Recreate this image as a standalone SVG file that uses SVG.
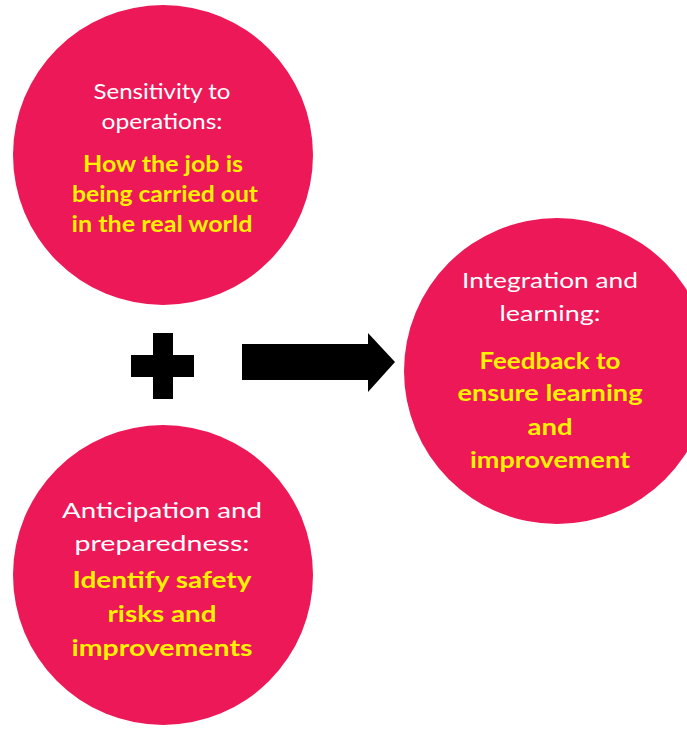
<svg xmlns="http://www.w3.org/2000/svg" width="687" height="731" viewBox="0 0 687 731">
  <style>
    .disc { fill: #EC1857; }
    .head { font-family: Lato, "Liberation Sans", Arial, sans-serif; font-size: 22px; fill: #FFFFFF; text-anchor: middle; }
    .body { font-family: Lato, "Liberation Sans", Arial, sans-serif; font-size: 22px; font-weight: bold; fill: #FFF200; text-anchor: middle; }
    .sym { fill: #000000; }
  </style>
  <rect width="687" height="731" fill="#FFFFFF"/>

  <g id="sensitivity">
    <circle class="disc" cx="163" cy="155" r="150"/>
    <text class="head" x="162" y="99" textLength="137" lengthAdjust="spacingAndGlyphs">Sensitivity to</text>
    <text class="head" x="162" y="129" textLength="121" lengthAdjust="spacingAndGlyphs">operations:</text>
    <text class="body" x="163" y="172" textLength="160" lengthAdjust="spacingAndGlyphs">How the job is</text>
    <text class="body" x="165" y="202" textLength="186" lengthAdjust="spacingAndGlyphs">being carried out</text>
    <text class="body" x="162" y="232" textLength="181" lengthAdjust="spacingAndGlyphs">in the real world</text>
  </g>

  <g id="anticipation">
    <circle class="disc" cx="163" cy="575" r="150"/>
    <text class="head" x="162" y="518" textLength="200" lengthAdjust="spacingAndGlyphs">Anticipation and</text>
    <text class="head" x="162" y="551" textLength="175" lengthAdjust="spacingAndGlyphs">preparedness:</text>
    <text class="body" x="162" y="588" textLength="179" lengthAdjust="spacingAndGlyphs">Identify safety</text>
    <text class="body" x="162" y="622" textLength="109" lengthAdjust="spacingAndGlyphs">risks and</text>
    <text class="body" x="162" y="656" textLength="181" lengthAdjust="spacingAndGlyphs">improvements</text>
  </g>

  <g id="integration">
    <circle class="disc" cx="557" cy="371" r="153"/>
    <text class="head" x="550" y="288" textLength="176" lengthAdjust="spacingAndGlyphs">Integration and</text>
    <text class="head" x="550" y="321" textLength="101" lengthAdjust="spacingAndGlyphs">learning:</text>
    <text class="body" x="550" y="369" textLength="141" lengthAdjust="spacingAndGlyphs">Feedback to</text>
    <text class="body" x="550" y="401" textLength="185" lengthAdjust="spacingAndGlyphs">ensure learning</text>
    <text class="body" x="550" y="435" textLength="45" lengthAdjust="spacingAndGlyphs">and</text>
    <text class="body" x="550" y="468" textLength="160" lengthAdjust="spacingAndGlyphs">improvement</text>
  </g>

  <g id="connectors">
    <!-- plus sign joining the two left discs -->
    <path class="sym" d="M153,333 H173 V355 H194 V377 H173 V399 H153 V377 H131 V355 H153 Z"/>
    <!-- block arrow leading to the right disc -->
    <path class="sym" d="M242,344 H368 V333 L395,362 L368,392 V380 H242 Z"/>
  </g>
</svg>
